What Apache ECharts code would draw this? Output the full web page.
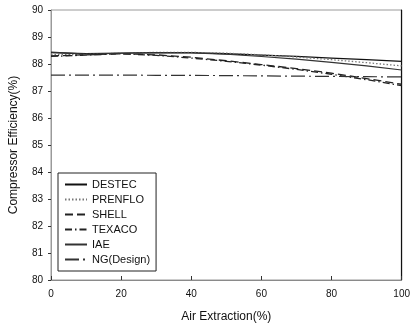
<!DOCTYPE html>
<html>
<head>
<meta charset="utf-8">
<script src="https://cdn.jsdelivr.net/npm/echarts@6/dist/echarts.min.js"></script>
<style>
  html, body { margin: 0; padding: 0; background: #fff; }
  #chart { width: 413px; height: 332px; }
</style>
</head>
<body>
<div id="chart"></div>
<script>
// Air extraction (%) sample points
const airExtraction = [0, 10, 20, 30, 40, 50, 60, 70, 80, 90, 100];

// Compressor efficiency (%) for each gasifier case
const destec  = [88.42, 88.38, 88.40, 88.42, 88.42, 88.38, 88.33, 88.28, 88.22, 88.16, 88.10];
const prenflo = [88.35, 88.36, 88.40, 88.43, 88.43, 88.40, 88.34, 88.26, 88.16, 88.05, 87.93];
const shell   = [88.30, 88.34, 88.38, 88.34, 88.25, 88.12, 87.98, 87.83, 87.66, 87.46, 87.25];
const texaco  = [88.28, 88.33, 88.38, 88.32, 88.22, 88.10, 87.96, 87.80, 87.62, 87.42, 87.20];
const iae     = [88.44, 88.37, 88.40, 88.42, 88.41, 88.36, 88.28, 88.18, 88.06, 87.93, 87.78];
const ngDesign = [87.59, 87.59, 87.59, 87.58, 87.58, 87.57, 87.56, 87.55, 87.54, 87.53, 87.52];

const yTicks = [80, 81, 82, 83, 84, 85, 86, 87, 88, 89, 90];
const xTicks = [0, 20, 40, 60, 80, 100];

const FONT = 'Liberation Sans, Arial, sans-serif';

function pairs(ys) { return airExtraction.map((x, i) => [x, ys[i]]); }

function line(name, ys, color, width, type) {
  return {
    name: name, type: 'line', data: pairs(ys), symbol: 'none',
    lineStyle: { color: color, width: width, type: type },
    itemStyle: { color: color },
    animation: false
  };
}

const chart = echarts.init(document.getElementById('chart'));
chart.setOption({
  backgroundColor: '#fff',
  animation: false,
  grid: { left: 48, right: 7, top: 10, bottom: 52, show: true, borderColor: '#9a9a9a', borderWidth: 1 },
  xAxis: {
    type: 'value', min: xTicks[0], max: xTicks[xTicks.length - 1], interval: 20,
    name: 'Air Extraction(%)', nameLocation: 'middle', nameGap: 31,
    nameTextStyle: { fontFamily: FONT, fontSize: 12, color: '#111' },
    axisLine: { lineStyle: { color: '#8a8a8a', width: 1 } },
    axisTick: { inside: true, length: 4, lineStyle: { color: '#333' } },
    axisLabel: { fontFamily: FONT, fontSize: 10, color: '#111', margin: 9 },
    splitLine: { show: false }
  },
  yAxis: [{
    type: 'value', min: yTicks[0], max: yTicks[yTicks.length - 1], interval: 1,
    name: 'Compressor Efficiency(%)', nameLocation: 'middle', nameGap: 31,
    nameTextStyle: { fontFamily: FONT, fontSize: 12, color: '#111' },
    axisLine: { show: true, lineStyle: { color: '#9a9a9a', width: 1 } },
    axisTick: { show: true, length: 3, lineStyle: { color: '#333' } },
    axisLabel: { fontFamily: FONT, fontSize: 10, color: '#111', margin: 8 },
    splitLine: { show: false }
  }, {
    type: 'value', min: yTicks[0], max: yTicks[yTicks.length - 1], interval: 1,
    position: 'right',
    axisLine: { show: true, lineStyle: { color: '#111', width: 1.2 } },
    axisTick: { show: false }, axisLabel: { show: false }, splitLine: { show: false }
  }],
  legend: {
    left: 58, top: 173, orient: 'vertical',
    padding: [6, 6, 6, 6],
    itemGap: 4, itemWidth: 22, itemHeight: 10,
    itemStyle: { opacity: 0 },
    borderColor: '#222', borderWidth: 1, backgroundColor: '#fff',
    textStyle: { fontFamily: FONT, fontSize: 11, color: '#111' },
    data: ['DESTEC', 'PRENFLO', 'SHELL', 'TEXACO', 'IAE', 'NG(Design)']
  },
  series: [
    line('DESTEC', destec, '#111', 1.3, 'solid'),
    line('PRENFLO', prenflo, '#777', 1.3, [1.5, 2]),
    line('SHELL', shell, '#222', 1.3, [8, 4]),
    line('TEXACO', texaco, '#222', 1.3, [7, 3, 1.5, 3]),
    line('IAE', iae, '#333', 1.1, 'solid'),
    line('NG(Design)', ngDesign, '#333', 1.2, [14, 4, 2, 4])
  ]
});
</script>
</body>
</html>
